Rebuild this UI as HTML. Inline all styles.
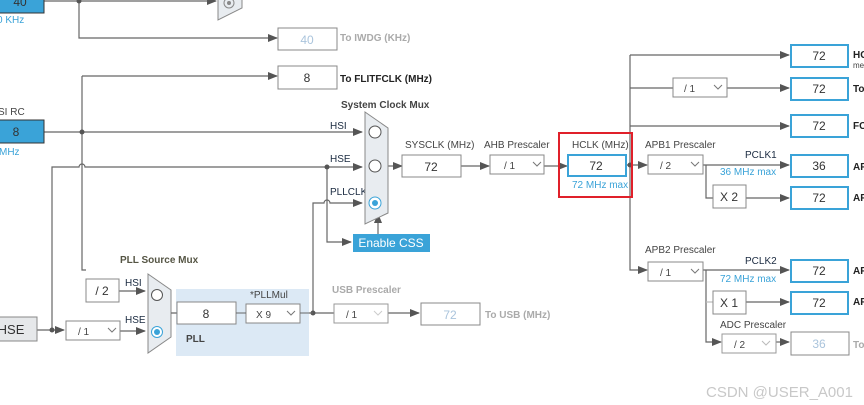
<!DOCTYPE html>
<html><head><meta charset="utf-8"><style>
html,body{margin:0;padding:0;background:#fff;}
svg{display:block;font-family:"Liberation Sans",Arial,sans-serif;}
.t{font-size:10px;fill:#444;}
.b{font-size:10px;fill:#222;font-weight:bold;}
.n{font-size:10px;fill:#1a2a40;}
.g{font-size:10px;fill:#aaa;font-weight:bold;}
.bl{font-size:10px;fill:#3aa3d8;}
.v{font-size:12px;fill:#333;text-anchor:middle;}
.vg{font-size:12px;fill:#aac4dc;text-anchor:middle;}
</style></head><body>
<svg width="864" height="405" viewBox="0 0 864 405">
<defs>
<marker id="a" markerWidth="10" markerHeight="8" refX="9" refY="4" orient="auto" markerUnits="userSpaceOnUse"><path d="M0,0L10,4L0,8z" fill="#555"/></marker>
</defs>
<g stroke="#666" stroke-width="1.2" fill="none">
<path d="M44,1H216" marker-end="url(#a)"/>
<path d="M79,1V38H277" marker-end="url(#a)"/>
<path d="M82,76H277" marker-end="url(#a)"/>
<path d="M82,76V270H86"/>
<path d="M44,132H362" marker-end="url(#a)"/>
<path d="M52,330V167H79a3,3 0 0 1 6,0H362" marker-end="url(#a)"/>
<path d="M327,167V242H351" marker-end="url(#a)"/>
<path d="M313,313V203H324a3,3 0 0 1 6,0H362" marker-end="url(#a)"/>
<path d="M378,234V214" marker-end="url(#a)"/>
<path d="M388,166H402" marker-end="url(#a)"/>
<path d="M461,166H489" marker-end="url(#a)"/>
<path d="M544,166H567" marker-end="url(#a)"/>
<path d="M626,165H647" marker-end="url(#a)"/>
<path d="M630,55V270H647" marker-end="url(#a)"/>
<path d="M630,55H789" marker-end="url(#a)"/>
<path d="M630,88H673M727,88H789" marker-end="url(#a)"/>
<path d="M630,126H789" marker-end="url(#a)"/>
<path d="M703,165H789" marker-end="url(#a)"/>
<path d="M706,165V198H713M746,198H789" marker-end="url(#a)"/>
<path d="M703,270H789" marker-end="url(#a)"/>
<path d="M706,270V342H721" marker-end="url(#a)"/>
<path d="M706,302H713" stroke="#bbb"/>
<path d="M746,302H789" marker-end="url(#a)"/>
<path d="M776,342H789" marker-end="url(#a)"/>
<path d="M37,330H64" marker-end="url(#a)"/>
<path d="M120,331H145" marker-end="url(#a)"/>
<path d="M119,291H145" marker-end="url(#a)"/>
<path d="M171,313H177M236,313H246M300,313H334M388,313H419" marker-end="url(#a)"/>
</g>
<g fill="#555">
<circle cx="79" cy="1" r="2.5"/><circle cx="82" cy="132" r="2.5"/><circle cx="327" cy="167" r="2.5"/>
<circle cx="630" cy="165" r="2.5"/><circle cx="52" cy="330" r="2.5"/><circle cx="313" cy="313" r="2.5"/>
</g>
<rect x="-2" y="-9" width="46" height="22" fill="#3aa3d8" stroke="#333"/>
<text x="20" y="6" class="v">40</text>
<text x="-3" y="23" class="bl">0 KHz</text>
<text x="-2" y="115" class="t">SI RC</text>
<rect x="-2" y="120" width="46" height="23" fill="#3aa3d8" stroke="#333"/>
<text x="16" y="136" class="v">8</text>
<text x="-1" y="155" class="bl">MHz</text>
<path d="M218,-5H242V8L218,20z" fill="#e8ecf0" stroke="#888"/>
<circle cx="229" cy="3" r="5" fill="none" stroke="#888"/><circle cx="229" cy="3" r="2" fill="#888"/>
<rect x="278" y="28" width="59" height="22" fill="#fff" stroke="#888"/><text x="307" y="44" class="vg">40</text>
<text x="340" y="41" class="g">To IWDG (KHz)</text>
<rect x="278" y="66" width="59" height="23" fill="#fff" stroke="#888"/><text x="307" y="82" class="v">8</text>
<text x="340" y="82" class="b">To FLITFCLK (MHz)</text>
<text x="341" y="108" class="b" style="fill:#444">System Clock Mux</text>
<text x="330" y="129" class="n">HSI</text>
<text x="330" y="162" class="n">HSE</text>
<text x="330" y="195" class="n">PLLCLK</text>
<path d="M365,112L388,128V213L365,224z" fill="#e8ecf0" stroke="#888"/>
<circle cx="375" cy="132" r="6" fill="#fff" stroke="#555"/>
<circle cx="375" cy="166" r="6" fill="#fff" stroke="#555"/>
<circle cx="375" cy="203" r="6" fill="#fff" stroke="#3aa3d8"/><circle cx="375" cy="203" r="3" fill="#3aa3d8"/>
<rect x="353" y="234" width="77" height="18" fill="#3aa3d8"/>
<text x="391" y="247" font-size="12" fill="#fff" text-anchor="middle">Enable CSS</text>
<text x="405" y="148" class="t">SYSCLK (MHz)</text>
<rect x="402" y="155" width="59" height="22" fill="#fff" stroke="#888"/><text x="431" y="171" class="v">72</text>
<text x="484" y="148" class="t">AHB Prescaler</text>
<rect x="490" y="155" width="54" height="19" fill="#fff" stroke="#888"/><text x="504" y="169" class="t" font-size="11">/ 1</text><path d="M533,162l4,4l4,-4" stroke="#777" fill="none"/>
<rect x="559" y="133" width="73" height="64" fill="none" stroke="#e0202a" stroke-width="2"/>
<text x="572" y="148" class="t">HCLK (MHz)</text>
<rect x="568" y="155" width="58" height="21" fill="#fff" stroke="#3aa3d8" stroke-width="2"/><text x="596" y="170" class="v">72</text>
<text x="572" y="188" class="bl">72 MHz max</text>
<text x="645" y="148" class="t">APB1 Prescaler</text>
<rect x="648" y="155" width="55" height="19" fill="#fff" stroke="#888"/><text x="660" y="169" class="t" font-size="11">/ 2</text><path d="M691,162l4,4l4,-4" stroke="#777" fill="none"/>
<rect x="673" y="78" width="54" height="19" fill="#fff" stroke="#888"/><text x="684" y="92" class="t" font-size="11">/ 1</text><path d="M714,85l4,4l4,-4" stroke="#777" fill="none"/>
<text x="745" y="158" class="n">PCLK1</text>
<text x="720" y="175" class="bl">36 MHz max</text>
<rect x="713" y="185" width="33" height="23" fill="#fff" stroke="#888"/><text x="729" y="201" class="v">X 2</text>
<text x="645" y="253" class="t">APB2 Prescaler</text>
<rect x="648" y="262" width="55" height="19" fill="#fff" stroke="#888"/><text x="660" y="276" class="t" font-size="11">/ 1</text><path d="M691,269l4,4l4,-4" stroke="#777" fill="none"/>
<text x="745" y="264" class="n">PCLK2</text>
<text x="720" y="282" class="bl">72 MHz max</text>
<rect x="713" y="291" width="33" height="23" fill="#fff" stroke="#888"/><text x="729" y="307" class="v">X 1</text>
<text x="720" y="328" class="t">ADC Prescaler</text>
<rect x="722" y="334" width="54" height="19" fill="#fff" stroke="#999"/><text x="734" y="348" class="t" font-size="11" fill="#999">/ 2</text><path d="M762,341l4,4l4,-4" stroke="#bbb" fill="none"/>
<g fill="#fff" stroke="#3aa3d8" stroke-width="2">
<rect x="791" y="45" width="57" height="22"/><rect x="791" y="78" width="57" height="22"/><rect x="791" y="115" width="57" height="22"/>
<rect x="791" y="155" width="57" height="22"/><rect x="791" y="187" width="57" height="22"/><rect x="791" y="260" width="57" height="22"/><rect x="791" y="292" width="57" height="22"/>
</g>
<rect x="791" y="332" width="58" height="23" fill="#fff" stroke="#888"/>
<text x="819" y="60" class="v">72</text><text x="819" y="93" class="v">72</text><text x="819" y="130" class="v">72</text>
<text x="819" y="170" class="v">36</text><text x="819" y="202" class="v">72</text><text x="819" y="275" class="v">72</text><text x="819" y="307" class="v">72</text>
<text x="819" y="348" class="vg">36</text>
<text x="853" y="58" class="b">HC</text><text x="853" y="68" font-size="8" fill="#444">me</text>
<text x="853" y="92" class="b">To</text><text x="853" y="129" class="b">FC</text>
<text x="853" y="170" class="b">AP</text><text x="853" y="201" class="b">AP</text><text x="853" y="274" class="b">AP</text><text x="853" y="305" class="b">AP</text>
<text x="853" y="348" class="g">To</text>
<rect x="-2" y="317" width="39" height="24" fill="#e6e8ea" stroke="#888"/><text x="11" y="334" font-size="13" fill="#333" text-anchor="middle">HSE</text>
<rect x="66" y="321" width="54" height="19" fill="#fff" stroke="#888"/><text x="78" y="335" class="t" font-size="11">/ 1</text><path d="M108,328l4,4l4,-4" stroke="#777" fill="none"/>
<rect x="86" y="279" width="33" height="23" fill="#fff" stroke="#888"/><text x="102" y="295" class="v">/ 2</text>
<text x="125" y="286" class="n">HSI</text><text x="125" y="323" class="n">HSE</text>
<text x="120" y="263" class="b" style="fill:#554">PLL Source Mux</text>
<path d="M148,274L171,290V337L148,353z" fill="#e8ecf0" stroke="#888"/>
<circle cx="157" cy="295" r="5.5" fill="#fff" stroke="#555"/>
<circle cx="157" cy="332" r="5.5" fill="#fff" stroke="#3aa3d8"/><circle cx="157" cy="332" r="3" fill="#3aa3d8"/>
<rect x="176" y="289" width="133" height="67" fill="#dce9f5"/>
<rect x="177" y="302" width="59" height="22" fill="#fff" stroke="#888"/><text x="206" y="318" class="v">8</text>
<text x="250" y="298" class="t">*PLLMul</text>
<rect x="246" y="304" width="54" height="19" fill="#fff" stroke="#888"/><text x="256" y="318" class="t" font-size="11">X 9</text><path d="M287,311l4,4l4,-4" stroke="#777" fill="none"/>
<text x="186" y="342" class="b" style="fill:#444">PLL</text>
<path d="M171,313H177M236,313H246M300,313H313" stroke="#666"/>
<text x="332" y="293" class="g">USB Prescaler</text>
<rect x="334" y="304" width="54" height="19" fill="#fff" stroke="#999"/><text x="346" y="318" class="t" font-size="11" fill="#aaa">/ 1</text><path d="M374,311l4,4l4,-4" stroke="#ccc" fill="none"/>
<rect x="421" y="303" width="59" height="22" fill="#fff" stroke="#888"/><text x="450" y="319" class="vg">72</text>
<text x="485" y="318" class="g">To USB (MHz)</text>
<text x="706" y="397" font-size="15" fill="#c8c8c8">CSDN @USER_A001</text>
</svg>
</body></html>
